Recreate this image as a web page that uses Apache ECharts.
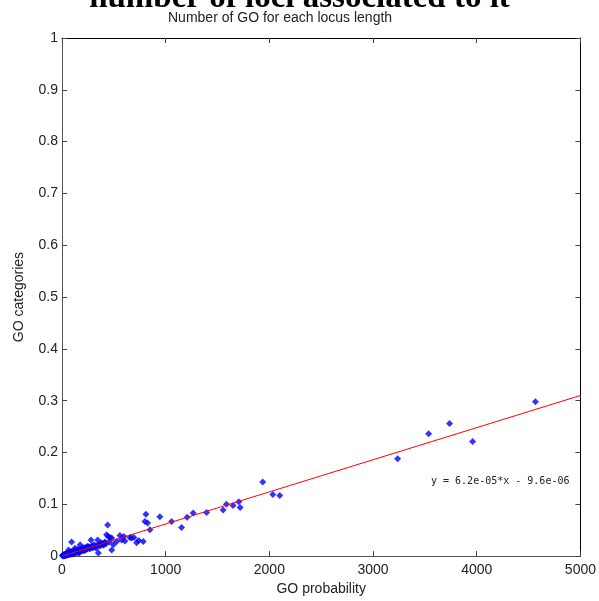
<!DOCTYPE html>
<html>
<head>
<meta charset="utf-8">
<script src="https://cdn.jsdelivr.net/npm/echarts@6/dist/echarts.min.js"></script>
<style>
html,body{margin:0;padding:0;background:#fff;}
#main{width:599px;height:601px;}
</style>
</head>
<body>
<div id="main"></div>
<script>
// GO probability (x) vs GO categories (y)
var goX = [5,8,10,12,15,18,20,22,25,28,30,33,35,38,40,42,45,48,50,52,55,58,60,63,65,68,70,72,75,78,80,85,88,90,93,95,100,105,110,115,120,125,130,135,140,145,150,155,160,165,170,175,180,190,200,210,215,220,230,240,247,255,260,270,280,286,290,300,310,320,330,344,350,360,370,380,390,400,415,430,440,446,462,479,479,495,527,559,575,597,607,655,671,694,720,740,783,800,809,825,848,944,1057,1153,1207,1265,1394,1554,1586,1650,1705,1718,1936,2033,2100,3237,3536,3738,3960,4566,
           108,128,148,168,188,205,225,245,265,295,315,335,355,375,395,410,425,455];
var goY = [0.001,0,0.002,0.0005,0.001,0.002,0,0.003,0.001,0.002,0.004,0.001,0.002,0.003,0.0015,0.004,0.002,0.003,0.006,0.002,0.004,0.003,0.005,0.012,0.003,0.006,0.004,0.008,0.005,0.003,0.007,0.005,0.009,0.004,0.027,0.006,0.008,0.005,0.009,0.006,0.01,0.015,0.007,0.011,0.008,0.012,0.009,0.013,0.01,0.006,0.012,0.022,0.011,0.014,0.012,0.016,0.011,0.014,0.017,0.013,0.019,0.016,0.018,0.014,0.031,0.018,0.02,0.017,0.022,0.019,0.015,0.031,0.006,0.022,0.02,0.026,0.023,0.021,0.027,0.041,0.06,0.038,0.036,0.035,0.012,0.022,0.028,0.04,0.031,0.038,0.029,0.036,0.035,0.036,0.026,0.03,0.028,0.067,0.081,0.064,0.051,0.076,0.067,0.055,0.075,0.083,0.084,0.089,0.1,0.0975,0.105,0.094,0.143,0.119,0.117,0.188,0.236,0.256,0.221,0.298,
           0.004,0.006,0.007,0.008,0.010,0.011,0.012,0.014,0.015,0.016,0.018,0.020,0.021,0.023,0.024,0.025,0.024,0.027];
// linear fit end points
var fitX = [0, 5000];
var fitY = [0, 0.31];

var pts = [];
for (var i = 0; i < goX.length; i++) pts.push([goX[i], goY[i]]);
var fit = [[fitX[0], fitY[0]], [fitX[1], fitY[1]]];

var font = 'Liberation Sans, Arial, sans-serif';
var tick = {show: true, inside: true, length: 5, lineStyle: {color: '#444'}};
var myChart = echarts.init(document.getElementById('main'));
var option = {
    animation: false,
    backgroundColor: '#fff',
    grid: {left: 62, right: 18, top: 38, bottom: 43},
    graphic: [
        {type: 'text', left: 'center', top: -18,
         style: {text: 'number of loci associated to it', font: 'bold 33px "Liberation Serif", serif', fill: '#000'}},
        {type: 'text', left: 168, top: 11,
         style: {text: 'Number of GO for each locus length', font: '14px ' + font, fill: '#222'}},
        {type: 'text', left: 431, top: 476,
         style: {text: 'y = 6.2e-05*x - 9.6e-06', font: '10px "DejaVu Sans Mono", monospace', fill: '#222'}}
    ],
    xAxis: [{
        type: 'value', min: 0, max: 5000, interval: 1000,
        name: 'GO probability', nameLocation: 'middle', nameGap: 24,
        nameTextStyle: {fontFamily: font, fontSize: 14, color: '#222'},
        axisLine: {show: true, onZero: false, lineStyle: {color: '#555'}},
        axisTick: tick,
        axisLabel: {fontFamily: font, fontSize: 14, color: '#222', margin: 7,
                    formatter: function (v) { return String(v); }},
        splitLine: {show: false}
    }, {
        type: 'value', position: 'top', min: 0, max: 5000, interval: 1000,
        axisLine: {show: true, onZero: false, lineStyle: {color: '#000'}},
        axisTick: tick,
        axisLabel: {show: false}, splitLine: {show: false}
    }],
    yAxis: [{
        type: 'value', min: 0, max: 1, interval: 0.1,
        name: 'GO categories', nameLocation: 'middle', nameGap: 36,
        nameTextStyle: {fontFamily: font, fontSize: 14, color: '#222'},
        axisLine: {show: true, onZero: false, lineStyle: {color: '#555'}},
        axisTick: tick,
        axisLabel: {fontFamily: font, fontSize: 14, color: '#222', margin: 4},
        splitLine: {show: false}
    }, {
        type: 'value', position: 'right', min: 0, max: 1, interval: 0.1,
        axisLine: {show: true, onZero: false, lineStyle: {color: '#000'}},
        axisTick: tick,
        axisLabel: {show: false}, splitLine: {show: false}
    }],
    series: [
        {
            type: 'line', data: fit, symbol: 'none', silent: true,
            lineStyle: {color: '#ff0000', width: 1}
        },
        {
            type: 'scatter', data: pts, symbol: 'diamond', symbolSize: 7,
            itemStyle: {color: '#0000ff'}
        }
    ]
};
myChart.setOption(option);
</script>
</body>
</html>
